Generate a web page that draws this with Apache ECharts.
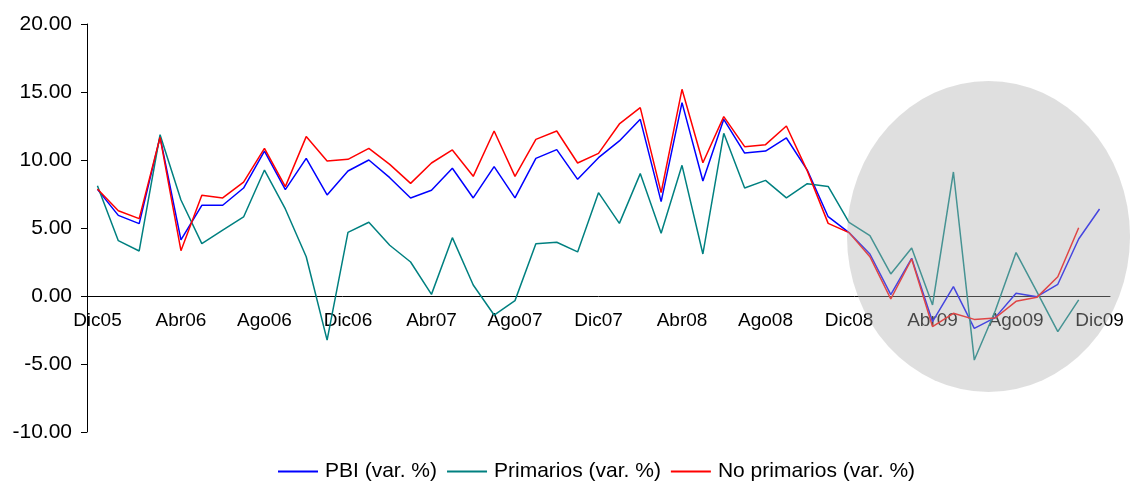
<!DOCTYPE html>
<html>
<head>
<meta charset="utf-8">
<script src="https://cdn.jsdelivr.net/npm/echarts@6/dist/echarts.min.js"></script>
<style>
  html, body { margin: 0; padding: 0; background: #fff; }
  #main { width: 1130px; height: 482px; }
</style>
</head>
<body>
<div id="main"></div>
<script>
// meses Dic05 .. Dic09
const meses = ['Ene', 'Feb', 'Mar', 'Abr', 'May', 'Jun', 'Jul', 'Ago', 'Set', 'Oct', 'Nov', 'Dic'];
const categorias = ['Dic05'];
for (let a = 6; a <= 9; a++) {
  meses.forEach(m => categorias.push(m + '0' + a));
}

const pbi = [
  7.84, 5.93, 5.32, 11.70, 4.12, 6.67, 6.67, 7.94, 10.66, 7.82, 10.12, 7.43,
  9.19, 10.00, 8.70, 7.21, 7.77, 9.39, 7.21, 9.51, 7.21, 10.12, 10.76, 8.58,
  10.17, 11.40, 12.99, 6.94, 14.22, 8.46, 12.99, 10.51, 10.66, 11.62, 9.26, 5.83,
  4.66, 3.09, 0.10, 2.77, -1.89, 0.69, -2.38, -1.59, 0.20, -0.05, 0.86, 4.19,
  6.40
];
const primarios = [
  8.11, 4.07, 3.31, 11.86, 7.06, 3.85, 4.85, 5.81, 9.26, 6.40, 2.89, -3.24,
  4.68, 5.42, 3.73, 2.50, 0.12, 4.29, 0.81, -1.40, -0.34, 3.85, 3.95, 3.24,
  7.60, 5.34, 9.00, 4.61, 9.61, 3.09, 11.96, 7.94, 8.50, 7.21, 8.26, 8.06,
  5.42, 4.44, 1.62, 3.53, -0.66, 9.12, -4.71, -1.10, 3.19, 0.30, -2.62, -0.29,
  null
];
const noPrimarios = [
  7.87, 6.27, 5.69, 11.67, 3.33, 7.40, 7.21, 8.38, 10.86, 8.04, 11.72, 9.93,
  10.05, 10.86, 9.68, 8.28, 9.78, 10.74, 8.80, 12.13, 8.80, 11.52, 12.13, 9.78,
  10.49, 12.65, 13.85, 7.60, 15.20, 9.80, 13.19, 10.98, 11.13, 12.50, 9.20, 5.34,
  4.66, 2.89, -0.22, 2.72, -2.25, -1.27, -1.72, -1.62, -0.39, -0.10, 1.42, 5.02,
  null
];

const fuente = "'Liberation Sans', Arial, sans-serif";

function serie(nombre, datos, color) {
  return {
    name: nombre,
    type: 'line',
    data: datos,
    symbol: 'none',
    connectNulls: false,
    lineStyle: { color: color, width: 1.5 },
    itemStyle: { color: color }
  };
}

let option = {
  backgroundColor: '#ffffff',
  animation: false,
  textStyle: { fontFamily: fuente, color: '#000' },
  grid: { left: 87, right: 20, top: 24, bottom: 50 },
  legend: {
    left: 273,
    top: 456,
    icon: 'rect',
    itemWidth: 40,
    itemHeight: 2,
    itemGap: 10,
    textStyle: { fontSize: 21, color: '#000', fontFamily: fuente, padding: [0, 0, 0, 2] }
  },
  xAxis: {
    type: 'category',
    data: categorias,
    boundaryGap: true,
    position: 'bottom',
    offset: -136, // eje en el cero (0 está 136px sobre el borde inferior)
    axisLine: { onZero: false, lineStyle: { color: '#000', width: 1 } },
    axisTick: { show: false },
    axisLabel: { interval: 3, margin: 15, fontSize: 19, color: '#000', fontFamily: fuente },
    splitLine: { show: false }
  },
  yAxis: {
    type: 'value',
    min: -10,
    max: 20,
    interval: 5,
    axisLine: { show: true, lineStyle: { color: '#000', width: 1 } },
    axisTick: { show: true, length: 6, lineStyle: { color: '#000' } },
    axisLabel: {
      margin: 15, fontSize: 21, color: '#000', fontFamily: fuente,
      formatter: v => v.toFixed(2)
    },
    splitLine: { show: false }
  },
  series: [
    serie('PBI (var. %)', pbi, '#0000ff'),
    serie('Primarios (var. %)', primarios, '#008080'),
    serie('No primarios (var. %)', noPrimarios, '#ff0000')
  ],
  graphic: [
    {
      type: 'circle',
      x: 988.5,
      y: 236.5,
      scaleX: 0.91,
      shape: { cx: 0, cy: 0, r: 155.5 },
      style: { fill: 'rgba(175,175,175,0.4)' },
      z: 100,
      silent: true
    }
  ]
};

let myChart = echarts.init(document.getElementById('main'), null, { renderer: 'canvas' });
myChart.setOption(option);
</script>
</body>
</html>
